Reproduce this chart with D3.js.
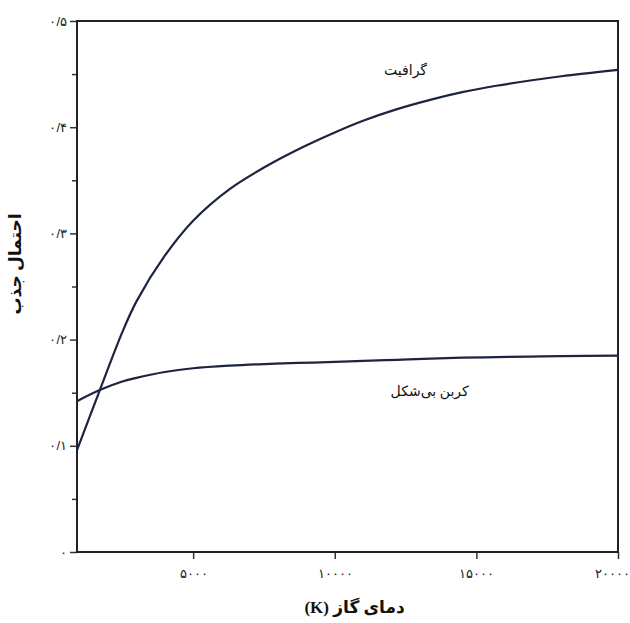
<!DOCTYPE html>
<html lang="fa">
<head>
<meta charset="utf-8">
<script src="https://cdn.jsdelivr.net/npm/d3@7"></script>
<style>
  body { margin: 0; background: #fff; }
  svg { display: block; font-family: "Liberation Serif", "DejaVu Sans", serif; }
</style>
</head>
<body>
<svg id="chart" width="630" height="623"></svg>
<script>
const temps = [900, 1700, 2500, 3000, 4000, 5000, 6300, 7500, 8700, 10000, 11000, 12200, 13400, 14500, 15700, 16900, 18000, 20000]
const graphite = [0.096, 0.152, 0.207, 0.236, 0.279, 0.312, 0.342, 0.362, 0.379, 0.395, 0.406, 0.417, 0.426, 0.433, 0.439, 0.444, 0.448, 0.454]
const amorphous = [0.142, 0.1525, 0.1605, 0.164, 0.1695, 0.173, 0.1755, 0.177, 0.178, 0.179, 0.180, 0.181, 0.182, 0.183, 0.1835, 0.184, 0.1845, 0.185]

const xTicks = [5000, 10000, 15000, 20000]
const yTicks = [0, 0.1, 0.2, 0.3, 0.4, 0.5]
const yMinorTicks = [0.05, 0.15, 0.25, 0.35, 0.45]

const seriesNames = ['گرافیت', 'کربن بی‌شکل']
const xTitle = 'دمای گاز (K)'
const yTitle = 'احتمال جذب'

// persian digits, slash as decimal mark like the original
const faDigits = '۰۱۲۳۴۵۶۷۸۹'
function toFa(s) {
    return String(s).replace(/[0-9]/g, d => faDigits[+d]).replace('.', '/')
}

const margin = { top: 21, right: 12, bottom: 71, left: 77 }
const svg = d3.select('#chart')
const width = +svg.attr('width') - margin.left - margin.right
const height = +svg.attr('height') - margin.top - margin.bottom

const g = svg.append('g')
    .attr('transform', 'translate(' + margin.left + ',' + margin.top + ')')

const xScale = d3.scaleLinear().domain([900, 20000]).range([0, width])
const yScale = d3.scaleLinear().domain([0, 0.5]).range([height, 0])

// minor y ticks
g.append('g')
    .call(d3.axisLeft(yScale).tickValues(yMinorTicks).tickSize(5).tickFormat(''))
    .call(a => a.select('.domain').remove())
    .call(a => a.selectAll('line').attr('stroke', '#333').attr('stroke-width', 1.5))

const yAxis = g.append('g')
    .call(d3.axisLeft(yScale).tickValues(yTicks).tickSize(7).tickPadding(3)
        .tickFormat(d => toFa(d)))
yAxis.select('.domain').remove()
yAxis.selectAll('line').attr('stroke', '#333').attr('stroke-width', 1.5)
yAxis.selectAll('text').attr('font-size', 13).attr('fill', '#222')

const xAxis = g.append('g')
    .attr('transform', 'translate(0,' + height + ')')
    .call(d3.axisBottom(xScale).tickValues(xTicks).tickSize(7).tickPadding(10)
        .tickFormat(d => toFa(d)))
xAxis.select('.domain').remove()
xAxis.selectAll('line').attr('stroke', '#333').attr('stroke-width', 1.5)
xAxis.selectAll('text').attr('font-size', 13).attr('fill', '#222')
// last label would run off the page
xAxis.selectAll('text').filter(d => d === 20000)
    .attr('text-anchor', 'end')
    .attr('dx', 11)

// frame
g.append('rect')
    .attr('width', width)
    .attr('height', height)
    .attr('fill', 'none')
    .attr('stroke', '#222')
    .attr('stroke-width', 2)

const line = d3.line()
    .x(d => xScale(d[0]))
    .y(d => yScale(d[1]))
    .curve(d3.curveCatmullRom.alpha(0.5))

const series = [graphite, amorphous]
g.selectAll('.curve')
    .data(series)
    .enter()
    .append('path')
    .attr('class', 'curve')
    .attr('d', d => line(temps.map((t, i) => [t, d[i]])))
    .attr('fill', 'none')
    .attr('stroke', '#1c2440')
    .attr('stroke-width', 2.2)

// curve labels
g.append('text')
    .attr('x', xScale(12500))
    .attr('y', yScale(0.454) + 5)
    .attr('text-anchor', 'middle')
    .attr('font-size', 14)
    .attr('fill', '#111')
    .text(seriesNames[0])

g.append('text')
    .attr('x', xScale(13350))
    .attr('y', yScale(0.152) + 5)
    .attr('text-anchor', 'middle')
    .attr('font-size', 14)
    .attr('fill', '#111')
    .text(seriesNames[1])

// axis titles
svg.append('text')
    .attr('x', margin.left + xScale(10700))
    .attr('y', 613)
    .attr('direction', 'rtl')
    .attr('text-anchor', 'middle')
    .attr('font-size', 17)
    .attr('font-weight', 'bold')
    .attr('fill', '#111')
    .text(xTitle)

svg.append('text')
    .attr('transform', 'translate(21,' + 264 + ') rotate(-90)')
    .attr('text-anchor', 'middle')
    .attr('font-size', 17)
    .attr('font-weight', 'bold')
    .attr('fill', '#111')
    .text(yTitle)
</script>
</body>
</html>
